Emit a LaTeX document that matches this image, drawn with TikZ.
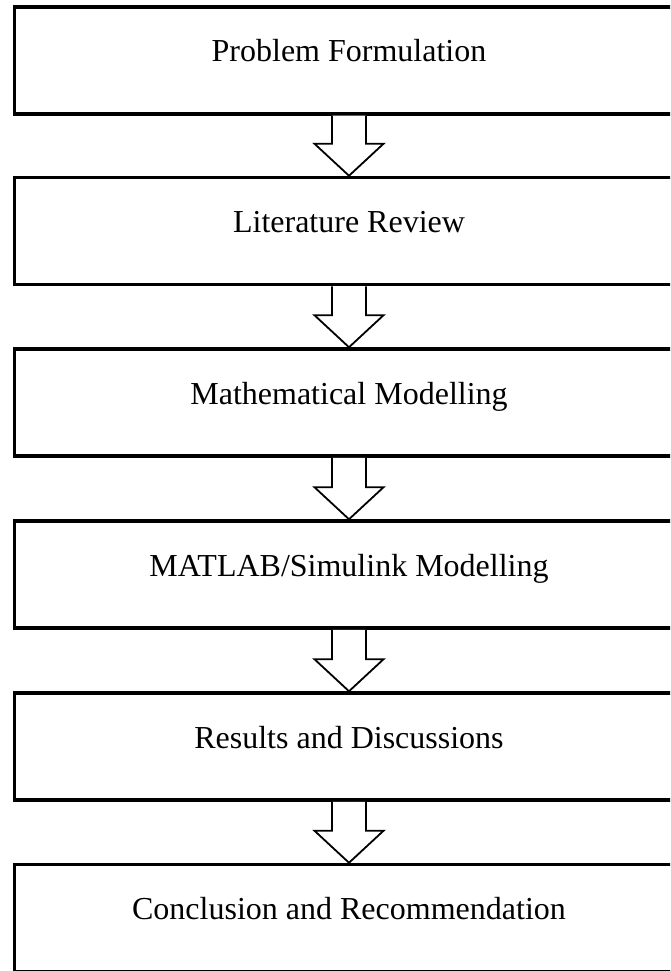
\documentclass[tikz,border=0pt]{standalone}
\usepackage{fontspec}
\setmainfont{Liberation Serif}
\usetikzlibrary{calc}
\tikzset{
  stagebox/.style={draw=black, line width=3.5pt, fill=white, rectangle,
    minimum width=669pt, minimum height=107pt, inner sep=0pt,
    text height=22pt, text depth=19pt,
    font=\fontsize{32}{38}\selectfont},
  hollowarrow/.style={draw=black, line width=1.8pt, fill=white, line join=miter}
}
\newcommand{\flowarrow}[2]{%
  \draw[hollowarrow]
    ($(#1.south)+(-17,0)$) -- ($(#2.north)+(-17,-32)$) -- ($(#2.north)+(-34.5,-32)$)
    -- (#2.north) -- ($(#2.north)+(34.5,-32)$) -- ($(#2.north)+(17,-32)$)
    -- ($(#1.south)+(17,0)$);}
\begin{document}
\begin{tikzpicture}[x=1pt,y=-1pt]
\path[use as bounding box, clip] (0,0) rectangle (670,971);
\node[stagebox] (b1) at (349, 60.5) {Problem Formulation};
\node[stagebox] (b2) at (349, 231) {Literature Review};
\node[stagebox] (b3) at (349, 402.5) {Mathematical Modelling};
\node[stagebox] (b4) at (349, 574.5) {MATLAB/Simulink Modelling};
\node[stagebox] (b5) at (349, 746.5) {Results and Discussions};
\node[stagebox] (b6) at (349, 918) {Conclusion and Recommendation};
\flowarrow{b1}{b2}
\flowarrow{b2}{b3}
\flowarrow{b3}{b4}
\flowarrow{b4}{b5}
\flowarrow{b5}{b6}
\end{tikzpicture}
\end{document}
